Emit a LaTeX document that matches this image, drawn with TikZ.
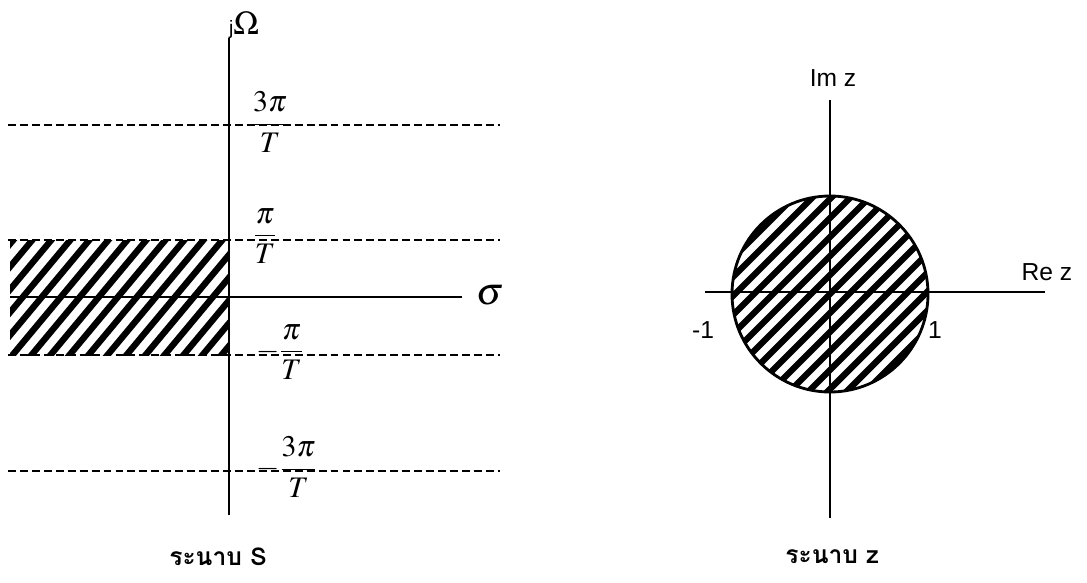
\documentclass[tikz,border=0pt]{standalone}
\usepackage{amsmath}
\usepackage{mathptmx}
\usepackage{fontspec}
\setmainfont{Liberation Sans}
\newfontfamily\thaifont[Script=Thai]{Loma}
\usepackage{tikz}
\usetikzlibrary{positioning, calc}

\begin{document}
\begin{tikzpicture}[x=0.02cm, y=-0.02cm,
        every node/.style={font=\fontsize{14}{16}\selectfont},
        axis/.style={line width=1.2pt},
        guide/.style={line width=1.2pt, dash pattern=on 4.5pt off 2.3pt},
        hatch/.style={line width=3.6pt},
        frac/.style={font=\fontsize{17}{19}\selectfont},
        planecap/.style={font=\thaifont\bfseries\fontsize{14}{16}\selectfont}]
      \useasboundingbox (0,0) rectangle (1087,582);

      % s-plane
      \begin{scope}
        \clip (10,240) rectangle (229,355);
        \foreach \k in {-8,...,14}
          \draw[hatch] (\k*19,370) -- ++(120,-144);
      \end{scope}
      \coordinate (s-top) at (229,38);
      \coordinate (s-bot) at (229,515);
      \coordinate (s-left) at (10,297);
      \coordinate (s-right) at (462,297);
      \draw[axis] (s-bot) -- (s-top);
      \draw[axis] (s-left) -- (s-right);
      \foreach \y/\n in {125/a, 240/b, 355/c, 471/d} {
        \coordinate (g\n-l) at (8,\y);
        \coordinate (g\n-r) at (500,\y);
        \draw[guide] (g\n-l) -- (g\n-r);
      }
      \node (jw) at (244,25) {{\fontsize{11}{13}\selectfont j}{\fontsize{19}{21}\selectfont $\boldsymbol{\Omega}$}};
      \node (sig) at (490,295) {\fontsize{22}{24}\selectfont$\sigma$};
      \node[frac] (f3p) at (270,122) {$\dfrac{3\pi}{T}$};
      \node[frac] (fp) at (265,236) {$\dfrac{\pi}{T}$};
      \node[frac] (fmp) at (280,352) {$-\dfrac{\pi}{T}$};
      \node[frac] (fm3p) at (287,467) {$-\dfrac{3\pi}{T}$};
      \node[planecap] (caps) at (218,557) {ระนาบ S};

      % z-plane
      \coordinate (z-o) at (830,294);
      \begin{scope}
        \clip (z-o) circle (98);
        \foreach \k in {-11,...,11}
          \draw[hatch] (710+\k*19,414) -- ++(240,-240);
      \end{scope}
      \draw[line width=1.6pt] (z-o) circle (98);
      \coordinate (z-top) at (830,100);
      \coordinate (z-bot) at (830,518);
      \coordinate (z-left) at (705,292);
      \coordinate (z-right) at (1045,292);
      \draw[axis] (z-bot) -- (z-top);
      \draw[axis] (z-left) -- (z-right);
      \node (imz) at (833,78) {Im z};
      \node (rez) at (1047,272) {Re z};
      \node (m1) at (703,330) {-1};
      \node (p1) at (935,330) {1};
      \node[planecap] (capz) at (832,557) {ระนาบ z};
    \end{tikzpicture}
\end{document}
